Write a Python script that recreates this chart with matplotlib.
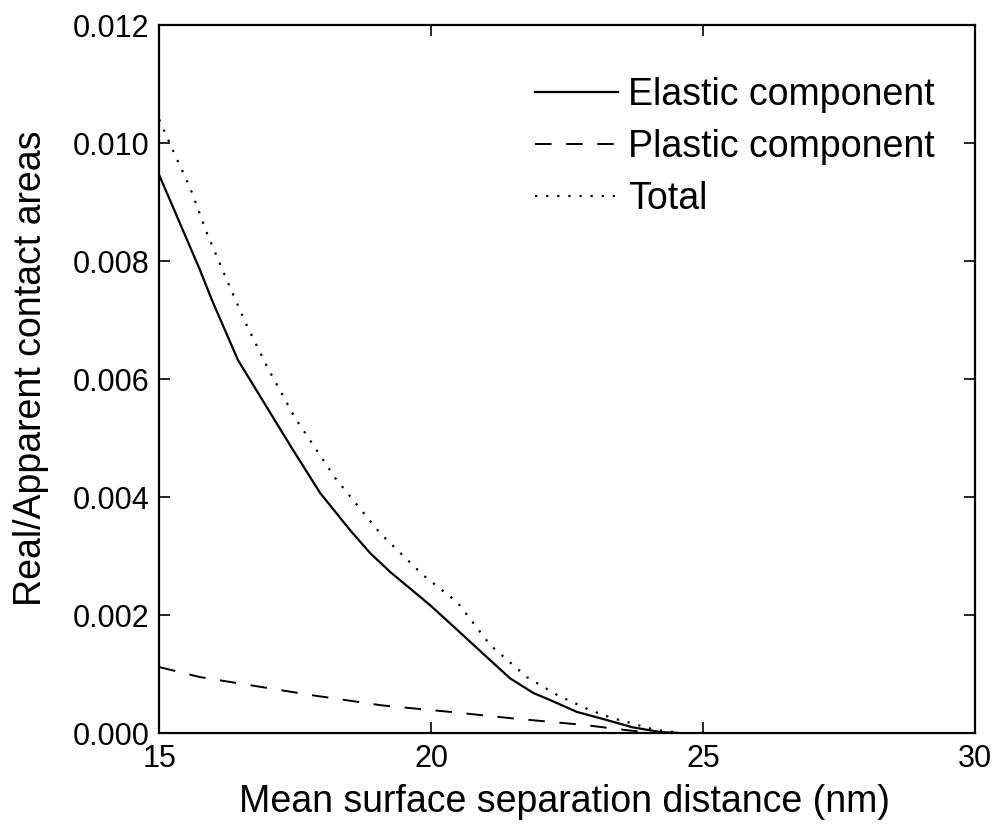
import matplotlib
matplotlib.use("Agg")
import matplotlib.pyplot as plt

plt.rcParams['font.family'] = ['Liberation Sans', 'DejaVu Sans']

# Elastic component (solid)
x_el = [15.0, 15.75, 15.97, 16.45, 17.44, 17.96, 18.51, 18.88, 19.25, 19.98,
        20.48, 20.94, 21.45, 21.88, 22.19, 22.68, 23.16, 23.7, 24.2, 24.6]
y_el = [0.00946, 0.00785, 0.00734, 0.00632, 0.00483, 0.00407, 0.00344, 0.00305,
        0.00273, 0.00217, 0.00175, 0.00136, 0.00093, 0.00068, 0.00056, 0.00036,
        0.00024, 0.00010, 0.00002, 0.0]

# Plastic component (dashed)
x_pl = [15.0, 15.75, 17.83, 19.1, 20.35, 21.5, 22.8, 23.6, 24.1]
y_pl = [0.00112, 0.00095, 0.00064, 0.00047, 0.00036, 0.00025, 0.00014, 0.00005, 0.0]

# Total (dotted)
x_tot = [15.0, 15.29, 15.57, 15.88, 16.23, 16.58, 16.99, 17.5, 18.24, 19.06,
         19.85, 20.48, 21.09, 21.76, 22.33, 22.92, 23.35, 23.6, 24.1, 24.6]
y_tot = [0.0104, 0.0098, 0.00924, 0.00847, 0.00771, 0.00697, 0.0062, 0.00534,
         0.00432, 0.00339, 0.00268, 0.00222, 0.00149, 0.00095, 0.00064, 0.00039,
         0.00025, 0.00019, 0.00006, 0.0]

yticks = [0, 0.002, 0.004, 0.006, 0.008, 0.010, 0.012]
ytick_labels = ['0.000', '0.002', '0.004', '0.006', '0.008', '0.010', '0.012']

fig = plt.figure(figsize=(10.01, 8.35), dpi=100)
ax = fig.add_axes([0.159, 0.122, 0.815, 0.848])

ax.plot(x_el, y_el, color='black', linestyle='-', linewidth=1.6, label='Elastic component')
ax.plot(x_pl, y_pl, color='black', linestyle=(0, (8.5, 7.5)), linewidth=1.4, label='Plastic component')
ax.plot(x_tot, y_tot, color='black', linestyle=(0, (1, 4)), linewidth=1.6, label='Total')

ax.set_xlim(15, 30)
ax.set_ylim(0, 0.012)
ax.set_xticks([15, 20, 25, 30])
ax.set_yticks(yticks)
ax.set_yticklabels(ytick_labels)
ax.tick_params(direction='in', length=8, width=1.2, top=True, right=True,
               labelsize=22)
ax.tick_params(axis='y', pad=7)
ax.tick_params(axis='x', pad=8)
for s in ax.spines.values():
    s.set_linewidth(1.6)

ax.set_xlabel('Mean surface separation distance (nm)', fontsize=27)
ax.set_ylabel('Real/Apparent contact areas', fontsize=27)
ax.xaxis.set_label_coords(0.497, -0.072)
ax.yaxis.set_label_coords(-0.135, 0.515)

ax.legend(loc='upper left', frameon=False, fontsize=27, handlelength=2.2,
          handletextpad=0.27, labelspacing=0.42, borderpad=0, borderaxespad=0,
          bbox_to_anchor=(0.461, 0.926))

fig.savefig('out.png', dpi=100)
